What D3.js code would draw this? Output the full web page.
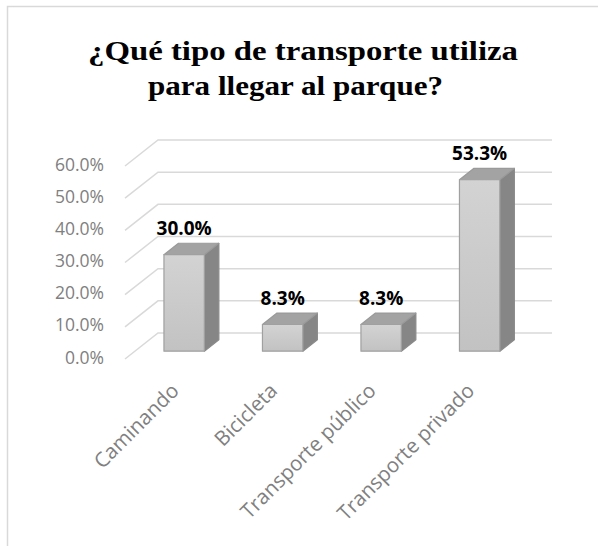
<!DOCTYPE html>
<html><head><meta charset="utf-8">
<script src="https://cdn.jsdelivr.net/npm/d3@7"></script>
<style>body{margin:0;background:#fff}svg{display:block}</style>
</head><body>
<svg id="c" width="598" height="546"></svg>
<script>
const categories = ["Caminando", "Bicicleta", "Transporte público", "Transporte privado"];
const values = [0.300, 0.083, 0.083, 0.533];
const labels = ["30.0%", "8.3%", "8.3%", "53.3%"];
const yTicks = [0, 0.1, 0.2, 0.3, 0.4, 0.5, 0.6];
const titleLines = ["¿Qué tipo de transporte utiliza", "para llegar al parque?"];

const svg = d3.select("#c");
// chart border
svg.append("rect").attr("x", 7.5).attr("y", 6.5).attr("width", 640).attr("height", 640)
  .attr("fill", "none").attr("stroke", "#d9d9d9").attr("stroke-width", 1.5);

// title (justified first line, stretched like the reference)
const tStarts = [88, 148], tWidths = [430, 295], tBase = [60, 95];
svg.append("g").selectAll("text").data(titleLines).join("text")
  .attr("x", (d, i) => tStarts[i]).attr("y", (d, i) => tBase[i])
  .attr("font-family", "Liberation Serif, Times New Roman, serif").attr("font-weight", "bold")
  .attr("font-size", 27).attr("fill", "#000")
  .attr("textLength", (d, i) => tWidths[i]).attr("lengthAdjust", "spacingAndGlyphs")
  .text(d => d);

// 3D geometry
const frontX0 = 125, plotW = 394;
const depth = {dx: 33, dy: -26};
const y = d3.scaleLinear().domain([0, 0.6]).range([359, 166]);
const x = d3.scaleBand().domain(categories).range([frontX0, frontX0 + plotW]).paddingInner(0.59).paddingOuter(0.295);

// side wall diagonals + back wall gridlines
const grid = svg.append("g").attr("stroke", "#d9d9d9").attr("stroke-width", 1.5).attr("fill", "none");
yTicks.forEach(t => {
  const fy = y(t);
  grid.append("path").attr("d", `M${frontX0},${fy} L${frontX0 + depth.dx},${fy + depth.dy} L${frontX0 + depth.dx + plotW},${fy + depth.dy}`);
});

// y labels
svg.append("g").selectAll("text").data(yTicks).join("text")
  .attr("x", 104).attr("y", d => y(d) - 1.5).attr("dy", "0.35em").attr("text-anchor", "end")
  .attr("font-family", "Open Sans, sans-serif").attr("font-size", 17.5).attr("fill", "#808080")
  .text(d => d3.format(".1%")(d));

// bars
const f1 = 0.3, f2 = 0.74;
const bars = svg.append("g");
const defs = svg.append("defs");
const grad = defs.append("linearGradient").attr("id", "gf").attr("x1", 0).attr("y1", 0).attr("x2", 0).attr("y2", 1);
grad.append("stop").attr("offset", 0).attr("stop-color", "#d3d3d3");
grad.append("stop").attr("offset", 1).attr("stop-color", "#c2c2c2");

const ox = depth.dx * f1, oy = depth.dy * f1;
categories.forEach((c, i) => {
  const v = values[i];
  const dx = depth.dx * (f2 - f1), dy = depth.dy * (f2 - f1);
  const x0 = x(c) + ox, x1 = x0 + x.bandwidth();
  const yb = y(0) + oy, yt = y(v) + oy;
  const g = bars.append("g").attr("stroke", "#a0a0a0").attr("stroke-width", 1.2).attr("stroke-linejoin", "round");
  g.append("path").attr("d", `M${x1},${yb} L${x1 + dx},${yb + dy} L${x1 + dx},${yt + dy} L${x1},${yt}Z`).attr("fill", "#868686").attr("stroke", "#8a8a8a");
  g.append("path").attr("d", `M${x0},${yt} L${x0 + dx},${yt + dy} L${x1 + dx},${yt + dy} L${x1},${yt}Z`).attr("fill", "#a3a3a3").attr("stroke", "#9a9a9a");
  g.append("rect").attr("x", x0).attr("y", yt).attr("width", x1 - x0).attr("height", yb - yt).attr("fill", "url(#gf)");
  svg.append("text").attr("x", (x0 + x1) / 2).attr("y", yt + dy - 8).attr("text-anchor", "middle")
    .attr("font-family", "Open Sans, sans-serif").attr("font-weight", "bold").attr("font-size", 19)
    .attr("fill", "#000").text(labels[i]);
});

// x labels rotated
svg.append("g").selectAll("text").data(categories).join("text")
  .attr("transform", d => `translate(${x(d) + x.bandwidth() / 2 + ox - 4},392) rotate(-45)`)
  .attr("text-anchor", "end")
  .attr("font-family", "Open Sans, sans-serif").attr("font-size", 20.5).attr("fill", "#808080")
  .text(d => d);
</script>
</body></html>
